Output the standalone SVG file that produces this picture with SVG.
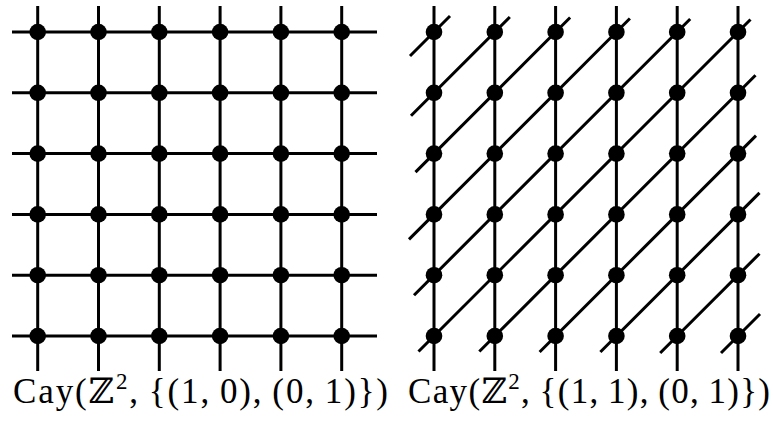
<svg xmlns="http://www.w3.org/2000/svg" width="773" height="421" viewBox="0 0 773 421">
<style>
.e{stroke:#000;stroke-width:3;fill:none;stroke-linecap:butt}
.n{fill:#000}
.t{font-family:"Liberation Serif","DejaVu Serif",serif;font-size:35px;fill:#000}
.s{font-size:23px}
</style>
<rect width="773" height="421" fill="#fff"/>
<g id="connectors" class="e">
<line x1="12" y1="32" x2="377" y2="32"/>
<line x1="12" y1="92.8" x2="377" y2="92.8"/>
<line x1="12" y1="153.6" x2="377" y2="153.6"/>
<line x1="12" y1="214.4" x2="377" y2="214.4"/>
<line x1="12" y1="275.2" x2="377" y2="275.2"/>
<line x1="12" y1="336" x2="377" y2="336"/>
<line x1="37.7" y1="6" x2="37.7" y2="371"/>
<line x1="98.5" y1="6" x2="98.5" y2="371"/>
<line x1="159.3" y1="6" x2="159.3" y2="371"/>
<line x1="220.1" y1="6" x2="220.1" y2="371"/>
<line x1="280.9" y1="6" x2="280.9" y2="371"/>
<line x1="341.7" y1="6" x2="341.7" y2="371"/>
<line x1="434" y1="6" x2="434" y2="371"/>
<line x1="494.8" y1="6" x2="494.8" y2="371"/>
<line x1="555.6" y1="6" x2="555.6" y2="371"/>
<line x1="616.4" y1="6" x2="616.4" y2="371"/>
<line x1="677.2" y1="6" x2="677.2" y2="371"/>
<line x1="738" y1="6" x2="738" y2="371"/>
<line x1="410" y1="56" x2="450" y2="16"/>
<line x1="411" y1="115.8" x2="509.8" y2="17"/>
<line x1="415.5" y1="172.1" x2="570.1" y2="17.5"/>
<line x1="409" y1="239.4" x2="629.9" y2="18.5"/>
<line x1="414" y1="295.2" x2="690.2" y2="19"/>
<line x1="418.5" y1="351.5" x2="750.5" y2="19.5"/>
<line x1="479.3" y1="351.5" x2="755.5" y2="75.3"/>
<line x1="539.6" y1="352" x2="756" y2="135.6"/>
<line x1="600.4" y1="352" x2="759.5" y2="192.9"/>
<line x1="660.2" y1="353" x2="759.5" y2="253.7"/>
<line x1="721" y1="353" x2="760" y2="314"/>
</g>
<g id="nodes-left" class="n">
<g id="L00"><circle cx="37.7" cy="32" r="8.3"/></g>
<g id="L10"><circle cx="98.5" cy="32" r="8.3"/></g>
<g id="L20"><circle cx="159.3" cy="32" r="8.3"/></g>
<g id="L30"><circle cx="220.1" cy="32" r="8.3"/></g>
<g id="L40"><circle cx="280.9" cy="32" r="8.3"/></g>
<g id="L50"><circle cx="341.7" cy="32" r="8.3"/></g>
<g id="L01"><circle cx="37.7" cy="92.8" r="8.3"/></g>
<g id="L11"><circle cx="98.5" cy="92.8" r="8.3"/></g>
<g id="L21"><circle cx="159.3" cy="92.8" r="8.3"/></g>
<g id="L31"><circle cx="220.1" cy="92.8" r="8.3"/></g>
<g id="L41"><circle cx="280.9" cy="92.8" r="8.3"/></g>
<g id="L51"><circle cx="341.7" cy="92.8" r="8.3"/></g>
<g id="L02"><circle cx="37.7" cy="153.6" r="8.3"/></g>
<g id="L12"><circle cx="98.5" cy="153.6" r="8.3"/></g>
<g id="L22"><circle cx="159.3" cy="153.6" r="8.3"/></g>
<g id="L32"><circle cx="220.1" cy="153.6" r="8.3"/></g>
<g id="L42"><circle cx="280.9" cy="153.6" r="8.3"/></g>
<g id="L52"><circle cx="341.7" cy="153.6" r="8.3"/></g>
<g id="L03"><circle cx="37.7" cy="214.4" r="8.3"/></g>
<g id="L13"><circle cx="98.5" cy="214.4" r="8.3"/></g>
<g id="L23"><circle cx="159.3" cy="214.4" r="8.3"/></g>
<g id="L33"><circle cx="220.1" cy="214.4" r="8.3"/></g>
<g id="L43"><circle cx="280.9" cy="214.4" r="8.3"/></g>
<g id="L53"><circle cx="341.7" cy="214.4" r="8.3"/></g>
<g id="L04"><circle cx="37.7" cy="275.2" r="8.3"/></g>
<g id="L14"><circle cx="98.5" cy="275.2" r="8.3"/></g>
<g id="L24"><circle cx="159.3" cy="275.2" r="8.3"/></g>
<g id="L34"><circle cx="220.1" cy="275.2" r="8.3"/></g>
<g id="L44"><circle cx="280.9" cy="275.2" r="8.3"/></g>
<g id="L54"><circle cx="341.7" cy="275.2" r="8.3"/></g>
<g id="L05"><circle cx="37.7" cy="336" r="8.3"/></g>
<g id="L15"><circle cx="98.5" cy="336" r="8.3"/></g>
<g id="L25"><circle cx="159.3" cy="336" r="8.3"/></g>
<g id="L35"><circle cx="220.1" cy="336" r="8.3"/></g>
<g id="L45"><circle cx="280.9" cy="336" r="8.3"/></g>
<g id="L55"><circle cx="341.7" cy="336" r="8.3"/></g>
</g>
<g id="nodes-right" class="n">
<g id="R00"><circle cx="434" cy="32" r="8.3"/></g>
<g id="R10"><circle cx="494.8" cy="32" r="8.3"/></g>
<g id="R20"><circle cx="555.6" cy="32" r="8.3"/></g>
<g id="R30"><circle cx="616.4" cy="32" r="8.3"/></g>
<g id="R40"><circle cx="677.2" cy="32" r="8.3"/></g>
<g id="R50"><circle cx="738" cy="32" r="8.3"/></g>
<g id="R01"><circle cx="434" cy="92.8" r="8.3"/></g>
<g id="R11"><circle cx="494.8" cy="92.8" r="8.3"/></g>
<g id="R21"><circle cx="555.6" cy="92.8" r="8.3"/></g>
<g id="R31"><circle cx="616.4" cy="92.8" r="8.3"/></g>
<g id="R41"><circle cx="677.2" cy="92.8" r="8.3"/></g>
<g id="R51"><circle cx="738" cy="92.8" r="8.3"/></g>
<g id="R02"><circle cx="434" cy="153.6" r="8.3"/></g>
<g id="R12"><circle cx="494.8" cy="153.6" r="8.3"/></g>
<g id="R22"><circle cx="555.6" cy="153.6" r="8.3"/></g>
<g id="R32"><circle cx="616.4" cy="153.6" r="8.3"/></g>
<g id="R42"><circle cx="677.2" cy="153.6" r="8.3"/></g>
<g id="R52"><circle cx="738" cy="153.6" r="8.3"/></g>
<g id="R03"><circle cx="434" cy="214.4" r="8.3"/></g>
<g id="R13"><circle cx="494.8" cy="214.4" r="8.3"/></g>
<g id="R23"><circle cx="555.6" cy="214.4" r="8.3"/></g>
<g id="R33"><circle cx="616.4" cy="214.4" r="8.3"/></g>
<g id="R43"><circle cx="677.2" cy="214.4" r="8.3"/></g>
<g id="R53"><circle cx="738" cy="214.4" r="8.3"/></g>
<g id="R04"><circle cx="434" cy="275.2" r="8.3"/></g>
<g id="R14"><circle cx="494.8" cy="275.2" r="8.3"/></g>
<g id="R24"><circle cx="555.6" cy="275.2" r="8.3"/></g>
<g id="R34"><circle cx="616.4" cy="275.2" r="8.3"/></g>
<g id="R44"><circle cx="677.2" cy="275.2" r="8.3"/></g>
<g id="R54"><circle cx="738" cy="275.2" r="8.3"/></g>
<g id="R05"><circle cx="434" cy="336" r="8.3"/></g>
<g id="R15"><circle cx="494.8" cy="336" r="8.3"/></g>
<g id="R25"><circle cx="555.6" cy="336" r="8.3"/></g>
<g id="R35"><circle cx="616.4" cy="336" r="8.3"/></g>
<g id="R45"><circle cx="677.2" cy="336" r="8.3"/></g>
<g id="R55"><circle cx="738" cy="336" r="8.3"/></g>
</g>
<g id="labels">
<text class="t" x="13" y="403" textLength="375">Cay(ℤ<tspan class="s" dy="-14">2</tspan><tspan dy="14">,&#8201;{(1,&#8201;0),&#8201;(0,&#8201;1)})</tspan></text>
<text class="t" x="408" y="403" textLength="362">Cay(ℤ<tspan class="s" dy="-14">2</tspan><tspan dy="14">,&#8201;{(1,&#8201;1),&#8201;(0,&#8201;1)})</tspan></text>
</g>
</svg>
